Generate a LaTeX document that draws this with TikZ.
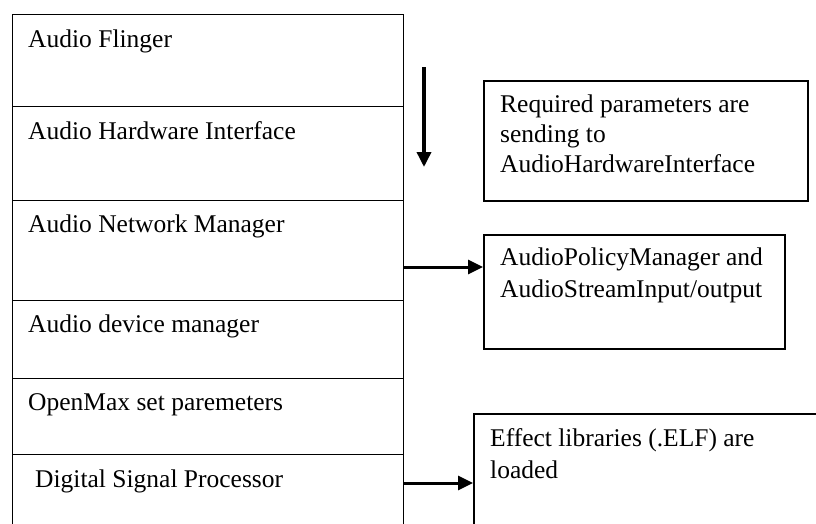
\documentclass[tikz,border=0pt]{standalone}
\usepackage{fontspec}
\setmainfont{Liberation Serif}
\usetikzlibrary{arrows.meta}
\begin{document}
\begin{tikzpicture}[x=1pt,y=-1pt,
  cell/.style={draw,line width=1.3pt,minimum width=391pt,anchor=north west,inner sep=0pt},
  lbl/.style={anchor=base west,inner sep=0pt,font=\fontsize{25.5}{30}\selectfont},
  infobox/.style={draw,line width=1.5pt,anchor=north west,inner sep=0pt},
  btxt/.style={anchor=north west,inner sep=0pt,align=left,font=\fontsize{25.5}{30}\selectfont},
  arr/.style={line width=3pt,-{Triangle[length=15pt,width=14pt]}}]
\clip (0,0) rectangle (816,523);
\fill[white] (0,0) rectangle (816,523);
% left column
\node[cell,minimum height=92pt] (c1) at (12,14) {};
\node[cell,minimum height=94pt] (c2) at (12,106) {};
\node[cell,minimum height=100pt] (c3) at (12,200) {};
\node[cell,minimum height=78pt] (c4) at (12,300) {};
\node[cell,minimum height=76pt] (c5) at (12,378) {};
\node[cell,minimum height=100pt] (c6) at (12,454) {};
\node[lbl] (t1) at (28,47) {Audio Flinger};
\node[lbl] (t2) at (28,139) {Audio Hardware Interface};
\node[lbl] (t3) at (28,232) {Audio Network Manager};
\node[lbl] (t4) at (28,332) {Audio device manager};
\node[lbl] (t5) at (28,410) {OpenMax set paremeters};
\node[lbl] (t6) at (35,487) {Digital Signal Processor};
% right boxes
\node[infobox,minimum width=324pt,minimum height=120pt] (b1) at (483,80) {};
\node[infobox,minimum width=301pt,minimum height=114pt] (b2) at (483,234) {};
\node[infobox,minimum width=400pt,minimum height=150pt] (b3) at (473,413) {};
\node[btxt] (bt1) at (500,95) {Required parameters are\\sending to\\AudioHardwareInterface};
\node[btxt,font=\fontsize{25.5}{32}\selectfont] (bt2) at (500,248) {AudioPolicyManager and\\AudioStreamInput/output};
\node[btxt,font=\fontsize{25.5}{32}\selectfont] (bt3) at (490,428) {Effect libraries (.ELF) are\\loaded};
% arrows
\coordinate (v1) at (424,67);
\coordinate (v2) at (424,167);
\draw[arr,line width=3.5pt] (v1) -- (v2);
\coordinate (h2) at (0,267);
\draw[arr] (c3.east |- h2) -- (b2.west |- h2);
\coordinate (h3) at (0,483);
\draw[arr] (c6.east |- h3) -- (b3.west |- h3);
\end{tikzpicture}
\end{document}
